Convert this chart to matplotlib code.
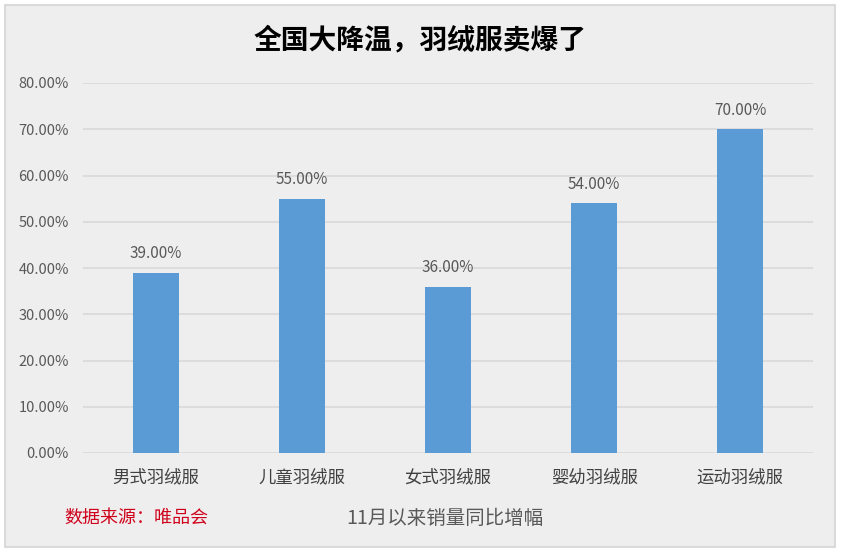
import matplotlib.pyplot as plt
from matplotlib.patches import Rectangle
from matplotlib.ticker import FuncFormatter

plt.rcParams['font.family'] = ['Noto Sans CJK SC', 'DejaVu Sans']

categories = ["男式羽绒服", "儿童羽绒服", "女式羽绒服", "婴幼羽绒服", "运动羽绒服"]
values = [39.0, 55.0, 36.0, 54.0, 70.0]
title = "全国大降温，羽绒服卖爆了"
source = "数据来源：唯品会"
subtitle = "11月以来销量同比增幅"

fig = plt.figure(figsize=(8.41, 5.53), dpi=100)
fig.patch.set_facecolor("white")

# gray panel behind everything
panel = Rectangle((5 / 841, 6 / 553), 830 / 841, 542 / 553, transform=fig.transFigure,
                  facecolor="#eeeeee", edgecolor="#d4d4d4", linewidth=1.2, zorder=-10)
fig.patches.append(panel)

ax = fig.add_axes([83 / 841, 100 / 553, 730 / 841, 370 / 553])
ax.set_facecolor("none")

x = range(len(categories))
bars = ax.bar(x, values, width=0.315, color="#5b9bd5", zorder=3)
for xi, v in zip(x, values):
    ax.text(xi, v + 2.2, f"{v:.2f}%", ha="center", va="bottom", fontsize=11, color="#595959")

ax.set_xlim(-0.5, len(categories) - 0.5)
ax.set_ylim(0, 80)
ax.set_yticks(range(0, 81, 10))
ax.yaxis.set_major_formatter(FuncFormatter(lambda v, p: f"{v:.2f}%"))
ax.grid(axis="y", color="#d9d9d9", linewidth=1.2, zorder=0)
ax.set_xticks(list(x))
ax.set_xticklabels(categories, fontsize=12.5, color="#404040")
ax.tick_params(axis="y", length=0, labelsize=10.5, labelcolor="#595959", pad=10)
ax.tick_params(axis="x", length=0, pad=11)
for s in ax.spines.values():
    s.set_visible(False)

fig.text(0.5, 513 / 553, title, ha="center", va="center", fontsize=20, fontweight="bold", color="black")
fig.text(64 / 841, 35 / 553, source, ha="left", va="center", fontsize=13, color="#d0021b")
fig.text(445 / 841, 35 / 553, subtitle, ha="center", va="center", fontsize=14, color="#595959")

fig.savefig("out.png", dpi=100)
